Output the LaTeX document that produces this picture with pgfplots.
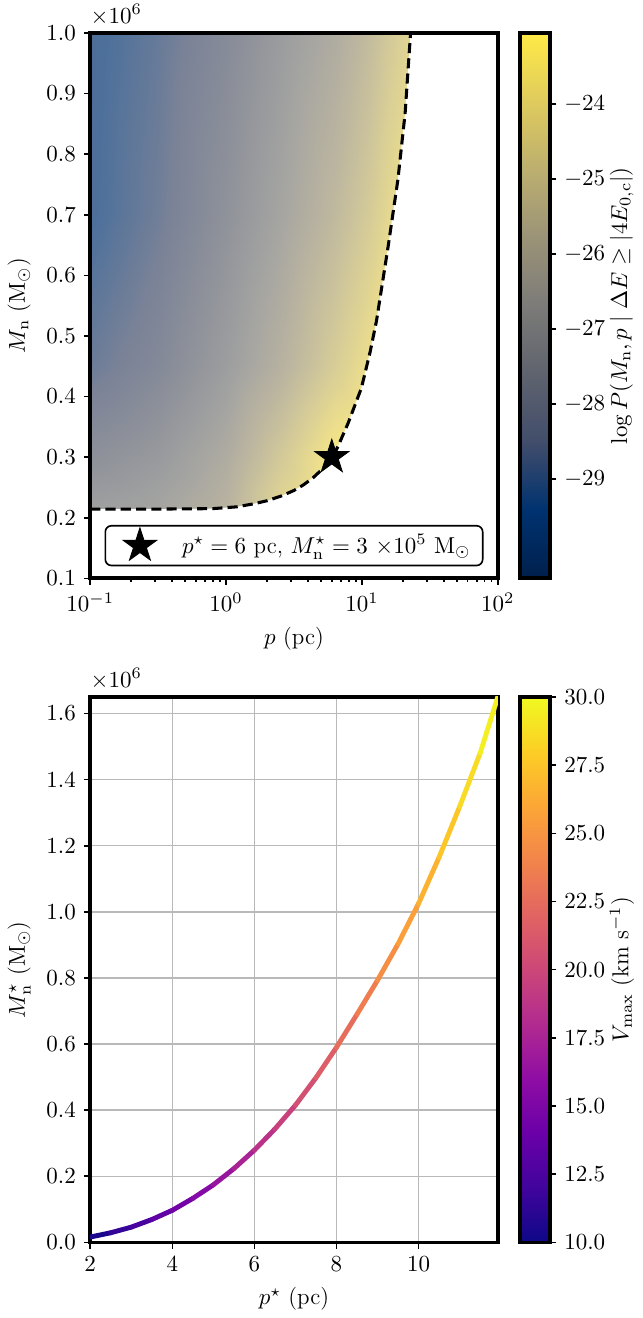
\RequirePackage{fix-cm}
\documentclass[border=0pt]{standalone}
\usepackage{pgfplots}
\pgfplotsset{compat=1.18}

% filled five-pointed star (matplotlib '*')
\pgfdeclareplotmark{fstar}{%
  \pgfpathmoveto{\pgfpointpolar{90}{\pgfplotmarksize}}%
  \pgfpathlineto{\pgfpointpolar{126}{0.382\pgfplotmarksize}}%
  \pgfpathlineto{\pgfpointpolar{162}{\pgfplotmarksize}}%
  \pgfpathlineto{\pgfpointpolar{198}{0.382\pgfplotmarksize}}%
  \pgfpathlineto{\pgfpointpolar{234}{\pgfplotmarksize}}%
  \pgfpathlineto{\pgfpointpolar{270}{0.382\pgfplotmarksize}}%
  \pgfpathlineto{\pgfpointpolar{306}{\pgfplotmarksize}}%
  \pgfpathlineto{\pgfpointpolar{342}{0.382\pgfplotmarksize}}%
  \pgfpathlineto{\pgfpointpolar{18}{\pgfplotmarksize}}%
  \pgfpathlineto{\pgfpointpolar{54}{0.382\pgfplotmarksize}}%
  \pgfpathclose
  \pgfusepathqfillstroke
}

\pgfplotsset{
  colormap={cividis}{rgb255=(0,32,77) rgb255=(0,50,112) rgb255=(65,77,107)
    rgb255=(95,99,110) rgb255=(124,123,120) rgb255=(155,147,119)
    rgb255=(188,175,111) rgb255=(223,203,93) rgb255=(255,234,70)},
  % same map drawn at alpha 0.7 on white
  colormap={cividislight}{rgb255=(77,99,130) rgb255=(77,112,155) rgb255=(122,130,151)
    rgb255=(143,146,154) rgb255=(163,163,161) rgb255=(185,179,160)
    rgb255=(208,199,154) rgb255=(233,219,142) rgb255=(255,240,126)},
  colormap={plasma}{rgb255=(13,8,135) rgb255=(65,4,157) rgb255=(106,0,168)
    rgb255=(143,13,164) rgb255=(177,42,144) rgb255=(204,71,120)
    rgb255=(225,100,98) rgb255=(242,132,75) rgb255=(252,166,54)
    rgb255=(252,206,37) rgb255=(240,249,33)},
  panel/.style={
    scale only axis, width=7.04cm, height=9.42cm,
    axis line style={line width=1.8pt},
    tick align=outside, tick pos=left,
    major tick length=0.11cm, minor tick length=0.06cm,
    every tick/.style={black, line width=0.8pt},
  },
  cbar/.style={
    width=0.52cm,
    at={(parent axis.north east)}, anchor=north west, xshift=0.08cm,
    axis line style={line width=1.8pt},
    tick align=outside, ytick pos=right, yticklabel pos=right,
    major tick length=0.11cm,
    every tick/.style={black, line width=0.8pt},
    ylabel shift=-5.5pt,
  },
}

% log P on a grid: rows M_n (1e6 Msun), columns p (pc)
\pgfplotstableread{
p m v
0.1 0.2141 -26.9
0.316 0.2141 -26.6
1 0.2141 -25.8
2.51 0.2141 -24.2
6.31 0.2141 -23.2
11.2 0.2141 -23.0
15.8 0.2141 -23.0
22.9 0.2141 -23.0

0.1 0.3 -27.7
0.316 0.3 -27.2
1 0.3 -26.2
2.51 0.3 -24.8
6.31 0.3 -23.4
11.2 0.3 -23.0
15.8 0.3 -23.0
22.9 0.3 -23.0

0.1 0.45 -28.8
0.316 0.45 -28.1
1 0.45 -27.0
2.51 0.45 -25.9
6.31 0.45 -24.6
11.2 0.45 -23.8
15.8 0.45 -23.3
22.9 0.45 -23.0

0.1 0.7 -29.5
0.316 0.7 -28.7
1 0.7 -27.6
2.51 0.7 -26.6
6.31 0.7 -25.5
11.2 0.7 -24.7
15.8 0.7 -24.1
22.9 0.7 -23.6

0.1 1.0 -29.6
0.316 1.0 -28.9
1 1.0 -28.0
2.51 1.0 -27.1
6.31 1.0 -26.2
11.2 1.0 -25.4
15.8 1.0 -24.8
22.9 1.0 -24.2
}\probgrid

% boundary of the region (dashed curve)
\pgfplotstableread{
p m
0.1 0.2141
0.3 0.2142
0.8 0.2150
1.2 0.2180
1.6 0.2230
2.0 0.2280
2.56 0.2360
3.16 0.2450
3.70 0.2540
4.37 0.2660
5.04 0.2790
6.03 0.2980
6.67 0.3180
7.91 0.3560
9.91 0.4140
11.5 0.4740
12.8 0.5250
15.6 0.6480
18.4 0.7580
20.8 0.8680
22.8 1.0000
}\boundary

% white area right of / below the boundary
\pgfplotstableread{
p m
0.1 0.2141
0.3 0.2142
0.8 0.2150
1.2 0.2180
1.6 0.2230
2.0 0.2280
2.56 0.2360
3.16 0.2450
3.70 0.2540
4.37 0.2660
5.04 0.2790
6.03 0.2980
6.67 0.3180
7.91 0.3560
9.91 0.4140
11.5 0.4740
12.8 0.5250
15.6 0.6480
18.4 0.7580
20.8 0.8680
22.8 1.0000
30 1.0
30 0.19
0.1 0.19
}\outside

% p*, M*_n (1e6 Msun), V_max (km/s)
\pgfplotstableread{
p m v
2.0 0.016 10.0
2.5 0.029 11.0
3.0 0.046 12.0
3.5 0.069 13.0
4.0 0.097 14.0
4.5 0.133 15.0
5.0 0.174 16.0
5.5 0.223 17.0
6.0 0.279 18.1
6.5 0.343 19.1
7.0 0.415 20.1
7.5 0.498 21.1
8.0 0.590 22.1
8.5 0.690 23.1
9.0 0.793 24.1
9.5 0.903 25.1
10.0 1.025 26.1
10.5 1.165 27.1
11.0 1.318 28.1
11.5 1.480 29.1
11.93 1.650 30.0
}\curve

\begin{document}
\fontsize{11.3}{13.6}\selectfont
\begin{tikzpicture}
\begin{axis}[
    panel, name=top, axis on top,
    xmode=log, xmin=0.1, xmax=100, ymin=0.1, ymax=1.0,
    xtick={0.1,1,10,100},
    ytick={0.1,0.2,0.3,0.4,0.5,0.6,0.7,0.8,0.9,1.0},
    yticklabel style={/pgf/number format/.cd, fixed, fixed zerofill, precision=1},
    xlabel={$p$ (pc)},
    ylabel={$M_\mathrm{n}$ ($\mathrm{M}_\odot$)},
    colormap name=cividis,
    point meta min=-30.33, point meta max=-23.05,
    colorbar,
    colorbar style={cbar, ytick={-29,-28,-27,-26,-25,-24},
      ylabel={$\log P(M_\mathrm{n}, p \mid \Delta E \geq |4E_{0,\mathrm{c}}|)$}},
    legend style={at={(0.5,0.022)}, anchor=south, draw=black, line width=0.8pt,
      rounded corners=3pt, inner xsep=4pt, inner ysep=1pt},
    legend cell align=left,
]
\addplot[surf, shader=interp, colormap name=cividislight, mesh/cols=8,
  point meta=explicit, forget plot] table[x=p, y=m, meta=v] {\probgrid};
\addplot[fill=white, draw=none, forget plot] table[x=p, y=m] {\outside};
\addplot[black, line width=1.5pt, dash pattern=on 5pt off 2.5pt, forget plot]
  table[x=p, y=m] {\boundary};
\addplot[only marks, mark=fstar, mark size=8.8pt, black, line width=0.4pt,
  legend image code/.code={\path (0cm,-0.3cm) (1.1cm,0.3cm);
    \draw[##1] plot coordinates {(0.45cm,0cm)};}]
  coordinates {(6,0.3)};
\addlegendentry{$p^\star = 6$ pc, $M_\mathrm{n}^\star = 3$ $\times10^{5}$ $\mathrm{M}_\odot$}
\end{axis}
\path ([yshift=0.57cm, xshift=-1.515cm]top.north west)
      ([xshift=2.5cm]top.north east);
\node[anchor=south west, inner sep=0pt] at ([yshift=0.13cm]top.north west) {$\times10^{6}$};

\begin{axis}[
    panel, name=bot, at={(0,-2.05cm)}, anchor=north west,
    xmin=2, xmax=11.93, ymin=0, ymax=1.65,
    xtick={2,4,6,8,10},
    ytick={0,0.2,0.4,0.6,0.8,1.0,1.2,1.4,1.6},
    yticklabel style={/pgf/number format/.cd, fixed, fixed zerofill, precision=1},
    grid=major, grid style={line width=0.7pt, gray!55},
    xlabel={$p^\star$ (pc)},
    ylabel={$M_\mathrm{n}^\star$ ($\mathrm{M}_\odot$)},
    colormap name=plasma,
    point meta min=10, point meta max=30,
    colorbar,
    colorbar style={cbar, ytick={10,12.5,15,17.5,20,22.5,25,27.5,30},
      yticklabel style={/pgf/number format/.cd, fixed, fixed zerofill, precision=1},
      ylabel={$V_\mathrm{max}$ (km s$^{-1}$)}},
]
\addplot[mesh, point meta=explicit, line width=2.4pt, line cap=round]
  table[x=p, y=m, meta=v] {\curve};
\end{axis}
\node[anchor=south west, inner sep=0pt] at ([yshift=0.13cm]bot.north west) {$\times10^{6}$};
\end{tikzpicture}
\end{document}
